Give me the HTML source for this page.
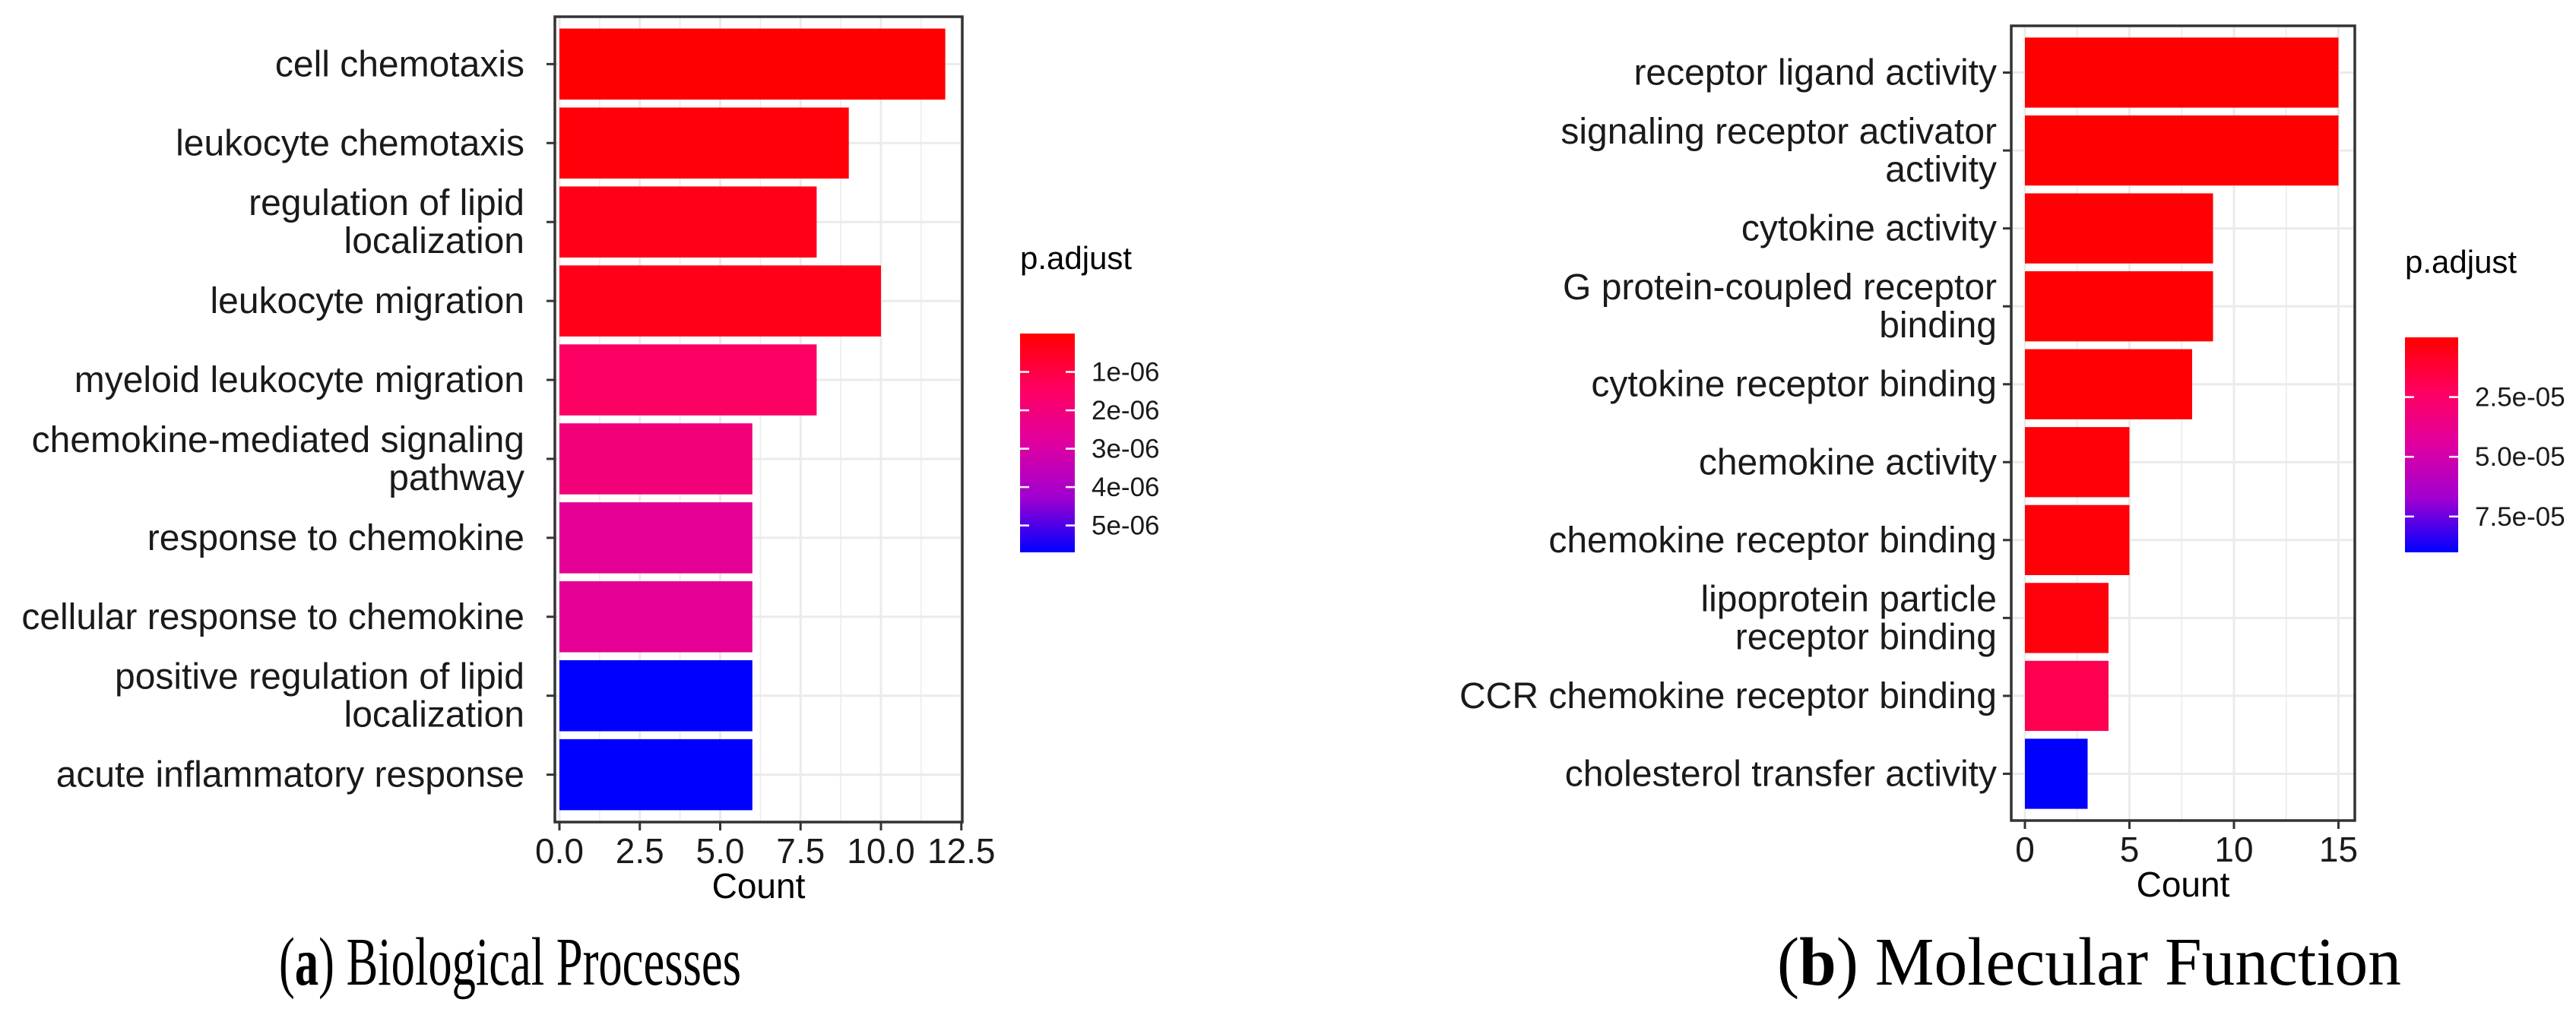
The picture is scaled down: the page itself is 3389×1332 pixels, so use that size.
<!DOCTYPE html>
<html><head><meta charset="utf-8"><style>
html,body{margin:0;padding:0;background:#fff;}
svg{display:block;font-family:"Liberation Sans",Arial,sans-serif;}
</style></head><body>
<svg id="fig" width="3389" height="1332" viewBox="0 0 3389 1332" xmlns="http://www.w3.org/2000/svg">
<defs>
<linearGradient id="gradA" x1="0" y1="0" x2="0" y2="1">
<stop offset="0" stop-color="#FF0000"/><stop offset="0.25" stop-color="#FF0060"/><stop offset="0.5" stop-color="#E000A0"/><stop offset="0.75" stop-color="#A000D0"/><stop offset="1" stop-color="#0000FF"/>
</linearGradient>
</defs>
<g id="panelA"></g>
<g id="panelB"></g>
<text x="367" y="1296" font-family="Liberation Serif, serif" font-size="90" textLength="608" lengthAdjust="spacingAndGlyphs">(<tspan font-weight="bold">a</tspan>) Biological Processes</text>
<text x="2338" y="1296" font-family="Liberation Serif, serif" font-size="90" textLength="821" lengthAdjust="spacingAndGlyphs">(<tspan font-weight="bold">b</tspan>) Molecular Function</text>
</svg>
<script>
const catsA = [["cell chemotaxis"],["leukocyte chemotaxis"],["regulation of lipid","localization"],["leukocyte migration"],["myeloid leukocyte migration"],["chemokine-mediated signaling","pathway"],["response to chemokine"],["cellular response to chemokine"],["positive regulation of lipid","localization"],["acute inflammatory response"]];
const countsA = [12,9,8,10,8,6,6,6,6,6];
const padjA = [0.0e-6,0.15e-6,0.35e-6,0.35e-6,1.5e-6,2.0e-6,2.6e-6,2.6e-6,5.7e-6,5.7e-6];
const xticksA = [0,2.5,5,7.5,10,12.5];
const xtickLabelsA = ["0.0","2.5","5.0","7.5","10.0","12.5"];
const legendTicksA = [1e-6,2e-6,3e-6,4e-6,5e-6];
const legendLabelsA = ["1e-06","2e-06","3e-06","4e-06","5e-06"];

const catsB = [["receptor ligand activity"],["signaling receptor activator","activity"],["cytokine activity"],["G protein-coupled receptor","binding"],["cytokine receptor binding"],["chemokine activity"],["chemokine receptor binding"],["lipoprotein particle","receptor binding"],["CCR chemokine receptor binding"],["cholesterol transfer activity"]];
const countsB = [15,15,9,9,8,5,5,4,4,3];
const padjB = [0.0e-5,0.0e-5,0.1e-5,0.1e-5,0.1e-5,0.2e-5,0.2e-5,0.3e-5,1.9e-5,9.0e-5];
const xticksB = [0,5,10,15];
const xtickLabelsB = ["0","5","10","15"];
const legendTicksB = [2.5e-5,5e-5,7.5e-5];
const legendLabelsB = ["2.5e-05","5.0e-05","7.5e-05"];

const NS="http://www.w3.org/2000/svg";
const stops=[[0,[255,0,0]],[0.25,[255,0,96]],[0.5,[224,0,160]],[0.75,[160,0,208]],[1,[0,0,255]]];
function colorAt(t){t=Math.max(0,Math.min(1,t));for(let i=1;i<stops.length;i++){if(t<=stops[i][0]){const a=stops[i-1],b=stops[i];const f=(t-a[0])/(b[0]-a[0]);const c=a[1].map((v,k)=>Math.round(v+(b[1][k]-v)*f));return `rgb(${c[0]},${c[1]},${c[2]})`;}}return "rgb(0,0,255)";}
function mk(tag,attrs,parent){const e=document.createElementNS(NS,tag);for(const k in attrs)e.setAttribute(k,attrs[k]);parent.appendChild(e);return e;}

function panel(g,cfg){
  const {box,x0,unit,cats,counts,padj,xt,xtl,pmin,pmax,leg,lt,ltl,labelX}=cfg;
  const xs=v=>x0+unit*v;
  const n=cats.length;const bandH=(box.b-box.t)/(n+0.2);
  const ys=i=>box.t+bandH*(0.6+i);
  const grid=mk('g',{},g);
  
  
  for(let i=0;i<xt.length;i++){
    const l=mk('line',{x1:xs(xt[i]),x2:xs(xt[i]),y1:box.t,y2:box.b,stroke:'#EBEBEB','stroke-width':3},grid);
    
    
    if(i<xt.length-1){const m=(xt[i]+xt[i+1])/2;const l2=mk('line',{x1:xs(m),x2:xs(m),y1:box.t,y2:box.b,stroke:'#EBEBEB','stroke-width':1.5},grid);
    
    }
  }
  for(let i=0;i<n;i++){const l=mk('line',{x1:box.l,x2:box.r,y1:ys(i),y2:ys(i),stroke:'#EBEBEB','stroke-width':3},grid);
    
    }
  for(let i=0;i<n;i++){
    const t=(padj[i]-pmin)/(pmax-pmin);
    const r=mk('rect',{x:xs(0),y:ys(i)-bandH*0.45,width:xs(counts[i])-xs(0),height:bandH*0.9,fill:colorAt(t)},g);
    
    
    const tk=mk('line',{x1:box.l-11,x2:box.l,y1:ys(i),y2:ys(i),stroke:'#333','stroke-width':3},g);
    
    
    const lines=cats[i];const lh=50;
    const tx=mk('text',{x:labelX,'text-anchor':'end','font-size':48,fill:'#1a1a1a'},g);
    
    
    lines.forEach((s,k)=>{const ts=mk('tspan',{x:labelX,y:ys(i)+16+(k-(lines.length-1)/2)*lh},tx);ts.textContent=s;});
  }
  const border=mk('rect',{x:box.l,y:box.t,width:box.r-box.l,height:box.b-box.t,fill:'none',stroke:'#333','stroke-width':3.5},g);
  
  
  for(let i=0;i<xt.length;i++){
    const tk=mk('line',{x1:xs(xt[i]),x2:xs(xt[i]),y1:box.b,y2:box.b+11,stroke:'#333','stroke-width':3},g);
    
    
    const tl=mk('text',{x:xs(xt[i]),y:box.b+54,'text-anchor':'middle','font-size':46,fill:'#1a1a1a'},g);
    
    
    tl.textContent=xtl[i];
  }
  const xl=mk('text',{x:(box.l+box.r)/2,y:box.b+100,'text-anchor':'middle','font-size':46,fill:'#000'},g);
  
  
  xl.textContent='Count';
  const lg=mk('g',{},g);
  
  
  const lt0=mk('text',{x:leg.x,y:leg.t-85,'font-size':42,fill:'#000'},lg);
  
  
  lt0.textContent='p.adjust';
  const cb=mk('rect',{x:leg.x,y:leg.t,width:leg.w,height:leg.b-leg.t,fill:'url(#gradA)'},lg);
  
  
  const ly=v=>leg.t+(v-pmin)/(pmax-pmin)*(leg.b-leg.t);
  for(let i=0;i<lt.length;i++){
    const y=ly(lt[i]);
    const a=mk('line',{x1:leg.x,x2:leg.x+12,y1:y,y2:y,stroke:'#fff','stroke-width':2.5},lg);
    
    
    const b=mk('line',{x1:leg.x+leg.w-12,x2:leg.x+leg.w,y1:y,y2:y,stroke:'#fff','stroke-width':2.5},lg);
    
    
    const t=mk('text',{x:leg.x+leg.w+22,y:y+12,'font-size':35,fill:'#1a1a1a'},lg);
    
    
    t.textContent=ltl[i];
  }
}
panel(document.getElementById('panelA'),{box:{l:730,r:1266,t:22,b:1082},x0:736,unit:42.3,cats:catsA,counts:countsA,padj:padjA,xt:xticksA,xtl:xtickLabelsA,pmin:0,pmax:5.7e-6,leg:{x:1342,w:72,t:439,b:727},lt:legendTicksA,ltl:legendLabelsA,labelX:690});
panel(document.getElementById('panelB'),{box:{l:2646,r:3098,t:34,b:1080},x0:2664,unit:27.5,cats:catsB,counts:countsB,padj:padjB,xt:xticksB,xtl:xtickLabelsB,pmin:0,pmax:9.0e-5,leg:{x:3164,w:70,t:444,b:727},lt:legendTicksB,ltl:legendLabelsB,labelX:2627});
</script>
</body></html>
